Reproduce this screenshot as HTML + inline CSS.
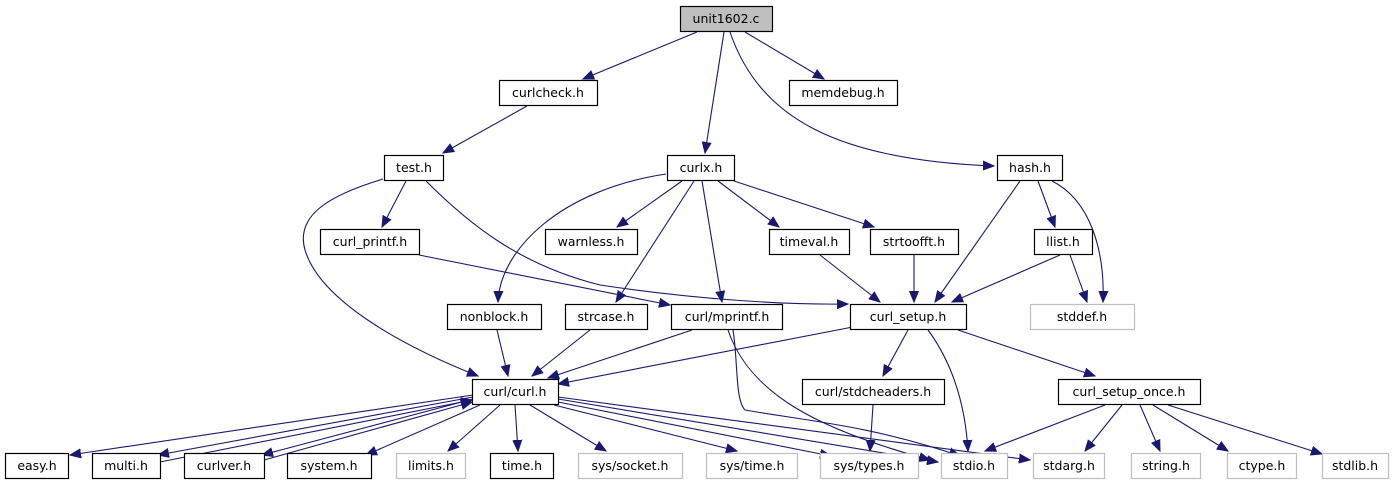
<!DOCTYPE html>
<html><head><meta charset="utf-8"><style>
html,body{margin:0;padding:0;background:#fff;}
svg{display:block;}
text{font-family:"DejaVu Sans","Liberation Sans",sans-serif;font-size:12.5px;fill:#000;text-anchor:middle;}
.n{fill:#fff;stroke:#000;stroke-width:1.2;}
.g{fill:#fff;stroke:#bfbfbf;stroke-width:1.2;}
.e{fill:none;stroke:#191970;stroke-width:1.1;marker-end:url(#a);}
</style></head><body>
<svg width="1396" height="485" viewBox="0 0 1396 485">
<defs><marker id="a" markerWidth="12" markerHeight="10" refX="11" refY="5" orient="auto" markerUnits="userSpaceOnUse"><path d="M0,0.5 L11,5 L0,9.5 Z" fill="#191970" stroke="#191970"/></marker></defs>
<path class="e" d="M697,32 L583,79"/>
<path class="e" d="M724,32 L705,153"/>
<path class="e" d="M745,32 L824,79"/>
<path class="e" d="M730,32 C760,120 840,160 994,166"/>
<path class="e" d="M527,106 L443,153"/>
<path class="e" d="M406,181 L382,227"/>
<path class="e" d="M383,179 C330,195 295,215 305,250 C320,300 400,345 478,376"/>
<path class="e" d="M426,181 C470,225 520,265 600,285 C700,300 790,305 848,304"/>
<path class="e" d="M666,174 C560,190 500,250 498,302"/>
<path class="e" d="M682,181 L617,227"/>
<path class="e" d="M694,181 L616,302"/>
<path class="e" d="M702,181 L722,302"/>
<path class="e" d="M718,181 L779,227"/>
<path class="e" d="M734,181 L874,227"/>
<path class="e" d="M1020,181 L935,302"/>
<path class="e" d="M1038,181 L1055,227"/>
<path class="e" d="M1052,181 C1090,200 1105,250 1103,302"/>
<path class="e" d="M419,255 L670,305"/>
<path class="e" d="M820,255 L880,302"/>
<path class="e" d="M914,255 L914,302"/>
<path class="e" d="M1060,255 L952,302"/>
<path class="e" d="M1070,255 L1087,302"/>
<path class="e" d="M497,330 L508,376"/>
<path class="e" d="M590,330 L532,376"/>
<path class="e" d="M692,330 L548,378"/>
<path class="e" d="M858,326 L558,384"/>
<path class="e" d="M733,330 C738,360 735,400 745,410 C800,420 870,425 960,456"/>
<path class="e" d="M728,330 C750,395 820,430 930,460"/>
<path class="e" d="M908,330 L883,376"/>
<path class="e" d="M928,330 C950,360 965,400 968,451"/>
<path class="e" d="M958,330 L1095,376"/>
<path class="e" d="M873,405 L870,451"/>
<path class="e" d="M1105,405 L985,451"/>
<path class="e" d="M1122,405 L1085,451"/>
<path class="e" d="M1140,405 L1160,451"/>
<path class="e" d="M1153,405 L1228,451"/>
<path class="e" d="M1168,405 L1322,454"/>
<path class="e" d="M473,395 L70,455"/>
<path class="e" d="M473,397 L158,455"/>
<path class="e" d="M160,462 L472,400"/>
<path class="e" d="M473,399 L262,455"/>
<path class="e" d="M264,460 L472,402"/>
<path class="e" d="M480,405 L366,455"/>
<path class="e" d="M500,405 L448,451"/>
<path class="e" d="M515,405 L518,451"/>
<path class="e" d="M530,405 L606,451"/>
<path class="e" d="M554,405 L737,451"/>
<path class="e" d="M558,402 L831,456"/>
<path class="e" d="M558,399 L938,462"/>
<path class="e" d="M558,397 L1030,460"/>
<rect x="680.5" y="6.5" width="92" height="25" fill="#bfbfbf" stroke="#000" stroke-width="1.2"/><text x="726" y="23">unit1602.c</text>
<rect class="n" x="499.5" y="80.5" width="98" height="25"/><text x="548" y="97">curlcheck.h</text>
<rect class="n" x="789.5" y="80.5" width="108" height="25"/><text x="843" y="97">memdebug.h</text>
<rect class="n" x="384.5" y="155.5" width="59" height="25"/><text x="414" y="172">test.h</text>
<rect class="n" x="667.5" y="155.5" width="67" height="25"/><text x="701" y="172">curlx.h</text>
<rect class="n" x="997.5" y="155.5" width="65" height="25"/><text x="1030" y="172">hash.h</text>
<rect class="n" x="320.5" y="229.5" width="99" height="25"/><text x="370" y="246">curl_printf.h</text>
<rect class="n" x="545.5" y="229.5" width="92" height="25"/><text x="591" y="246">warnless.h</text>
<rect class="n" x="769.5" y="229.5" width="80" height="25"/><text x="809" y="246">timeval.h</text>
<rect class="n" x="870.5" y="229.5" width="88" height="25"/><text x="914" y="246">strtoofft.h</text>
<rect class="n" x="1034.5" y="229.5" width="58" height="25"/><text x="1063" y="246">llist.h</text>
<rect class="n" x="447.5" y="304.5" width="94" height="25"/><text x="494" y="321">nonblock.h</text>
<rect class="n" x="565.5" y="304.5" width="82" height="25"/><text x="606" y="321">strcase.h</text>
<rect class="n" x="671.5" y="304.5" width="111" height="25"/><text x="727" y="321">curl/mprintf.h</text>
<rect class="n" x="850.5" y="304.5" width="116" height="25"/><text x="908" y="321">curl_setup.h</text>
<rect class="g" x="1030.5" y="304.5" width="104" height="25"/><text x="1082" y="321">stddef.h</text>
<rect class="n" x="472.5" y="379.5" width="86" height="25"/><text x="515" y="396">curl/curl.h</text>
<rect class="n" x="802.5" y="379.5" width="142" height="25"/><text x="873" y="396">curl/stdcheaders.h</text>
<rect class="n" x="1058.5" y="379.5" width="142" height="25"/><text x="1129" y="396">curl_setup_once.h</text>
<rect class="n" x="5.5" y="453.5" width="63" height="25"/><text x="37" y="470">easy.h</text>
<rect class="n" x="92.5" y="453.5" width="68" height="25"/><text x="126" y="470">multi.h</text>
<rect class="n" x="184.5" y="453.5" width="80" height="25"/><text x="224" y="470">curlver.h</text>
<rect class="n" x="287.5" y="453.5" width="84" height="25"/><text x="329" y="470">system.h</text>
<rect class="g" x="396.5" y="453.5" width="69" height="25"/><text x="431" y="470">limits.h</text>
<rect class="n" x="490.5" y="453.5" width="63" height="25"/><text x="522" y="470">time.h</text>
<rect class="g" x="578.5" y="453.5" width="104" height="25"/><text x="630" y="470">sys/socket.h</text>
<rect class="g" x="706.5" y="453.5" width="91" height="25"/><text x="752" y="470">sys/time.h</text>
<rect class="g" x="820.5" y="453.5" width="98" height="25"/><text x="869" y="470">sys/types.h</text>
<rect class="g" x="941.5" y="453.5" width="66" height="25"/><text x="974" y="470">stdio.h</text>
<rect class="g" x="1033.5" y="453.5" width="71" height="25"/><text x="1069" y="470">stdarg.h</text>
<rect class="g" x="1131.5" y="453.5" width="69" height="25"/><text x="1166" y="470">string.h</text>
<rect class="g" x="1227.5" y="453.5" width="69" height="25"/><text x="1262" y="470">ctype.h</text>
<rect class="g" x="1322.5" y="453.5" width="66" height="25"/><text x="1355" y="470">stdlib.h</text>
</svg>
</body></html>
